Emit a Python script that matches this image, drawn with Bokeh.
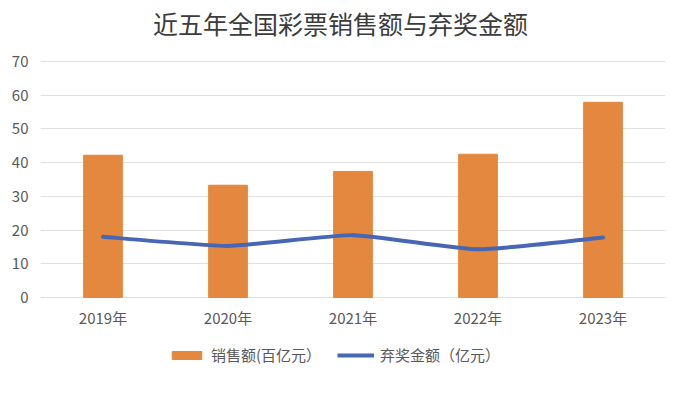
from bokeh.plotting import figure
from bokeh.models import Range1d, FixedTicker, Legend, LegendItem, Label
from bokeh.core.properties import value
from bokeh.embed import file_html
from bokeh.resources import INLINE

years = ["2019年", "2020年", "2021年", "2022年", "2023年"]
sales = [42.2, 33.3, 37.4, 42.5, 57.9]          # 销售额(百亿元)
abandoned = [18.0, 15.3, 18.5, 14.3, 17.8]      # 弃奖金额(亿元)
y_ticks = [0, 10, 20, 30, 40, 50, 60, 70]

FONT = "Noto Sans CJK SC"
xs = list(range(len(years)))

# layout: the frame spans the full height; y=0 at 297px, y=70 at 61px
H = 397
px_per_unit = (297 - 61) / 70
y_top = 70 + 61 / px_per_unit
y_bot = -(H - 297) / px_per_unit

p = figure(width=677, height=H, output_backend="svg", toolbar_location=None,
           x_range=Range1d(-0.5, len(years) - 0.5), y_range=Range1d(y_bot, y_top),
           x_axis_location=None,
           min_border_left=40, min_border_right=12, min_border_top=0,
           min_border_bottom=0)
p.outline_line_color = None
p.background_fill_color = "white"
p.border_fill_color = "white"

bars = p.vbar(x=xs, top=sales, bottom=0, width=0.31, fill_color="#E3883E", line_color="#E3883E")

# lightly smoothed line (bezier segments through the data points)
x0, y0, x1, y1, cx0, cy0, cx1, cy1 = [], [], [], [], [], [], [], []
n = len(xs)
k = 1 / 12
for i in range(n - 1):
    pm = (xs[max(i - 1, 0)], abandoned[max(i - 1, 0)])
    pa = (xs[i], abandoned[i])
    pb = (xs[i + 1], abandoned[i + 1])
    pn = (xs[min(i + 2, n - 1)], abandoned[min(i + 2, n - 1)])
    x0.append(pa[0]); y0.append(pa[1]); x1.append(pb[0]); y1.append(pb[1])
    cx0.append(pa[0] + (pb[0] - pm[0]) * k); cy0.append(pa[1] + (pb[1] - pm[1]) * k)
    cx1.append(pb[0] - (pn[0] - pa[0]) * k); cy1.append(pb[1] - (pn[1] - pa[1]) * k)
p.bezier(x0=x0, y0=y0, x1=x1, y1=y1, cx0=cx0, cy0=cy0, cx1=cx1, cy1=cy1,
         line_color="#4767B5", line_width=4, line_cap="round")
legend_line = p.line(xs, abandoned, line_color="#4767B5", line_width=4, visible=False)

# category labels under the baseline
p.text(x=xs, y=[0] * n, text=years, y_offset=20, text_align="center",
       text_baseline="middle", text_font=value(FONT), text_font_size="15px",
       text_color="#595959")

p.yaxis.ticker = FixedTicker(ticks=y_ticks)
p.yaxis.axis_line_color = None
p.yaxis.major_tick_line_color = None
p.yaxis.minor_tick_line_color = None
p.yaxis.major_label_standoff = 6
p.yaxis.major_label_text_font = FONT
p.yaxis.major_label_text_font_size = "15px"
p.yaxis.major_label_text_color = "#595959"

p.xgrid.grid_line_color = None
p.ygrid.grid_line_color = "#E0E0E0"
p.ygrid.ticker = FixedTicker(ticks=y_ticks)

title = Label(x=300, y=H - 22, x_units="screen", y_units="screen",
              text="近五年全国彩票销售额与弃奖金额", text_align="center",
              text_baseline="middle", text_font=FONT, text_font_size="25px",
              text_color="#3C3C3C")
p.add_layout(title)

legend = Legend(items=[LegendItem(label="销售额(百亿元）", renderers=[bars]),
                       LegendItem(label="弃奖金额（亿元）", renderers=[legend_line])],
                orientation="horizontal", location=(128, 32),
                glyph_width=37, glyph_height=10, label_text_font=FONT,
                label_text_font_size="15px", label_text_color="#595959",
                spacing=16, label_standoff=6, border_line_color=None,
                background_fill_alpha=0, padding=0, margin=0)
p.add_layout(legend, "center")

open("out.html", "w").write(file_html(p, INLINE))
